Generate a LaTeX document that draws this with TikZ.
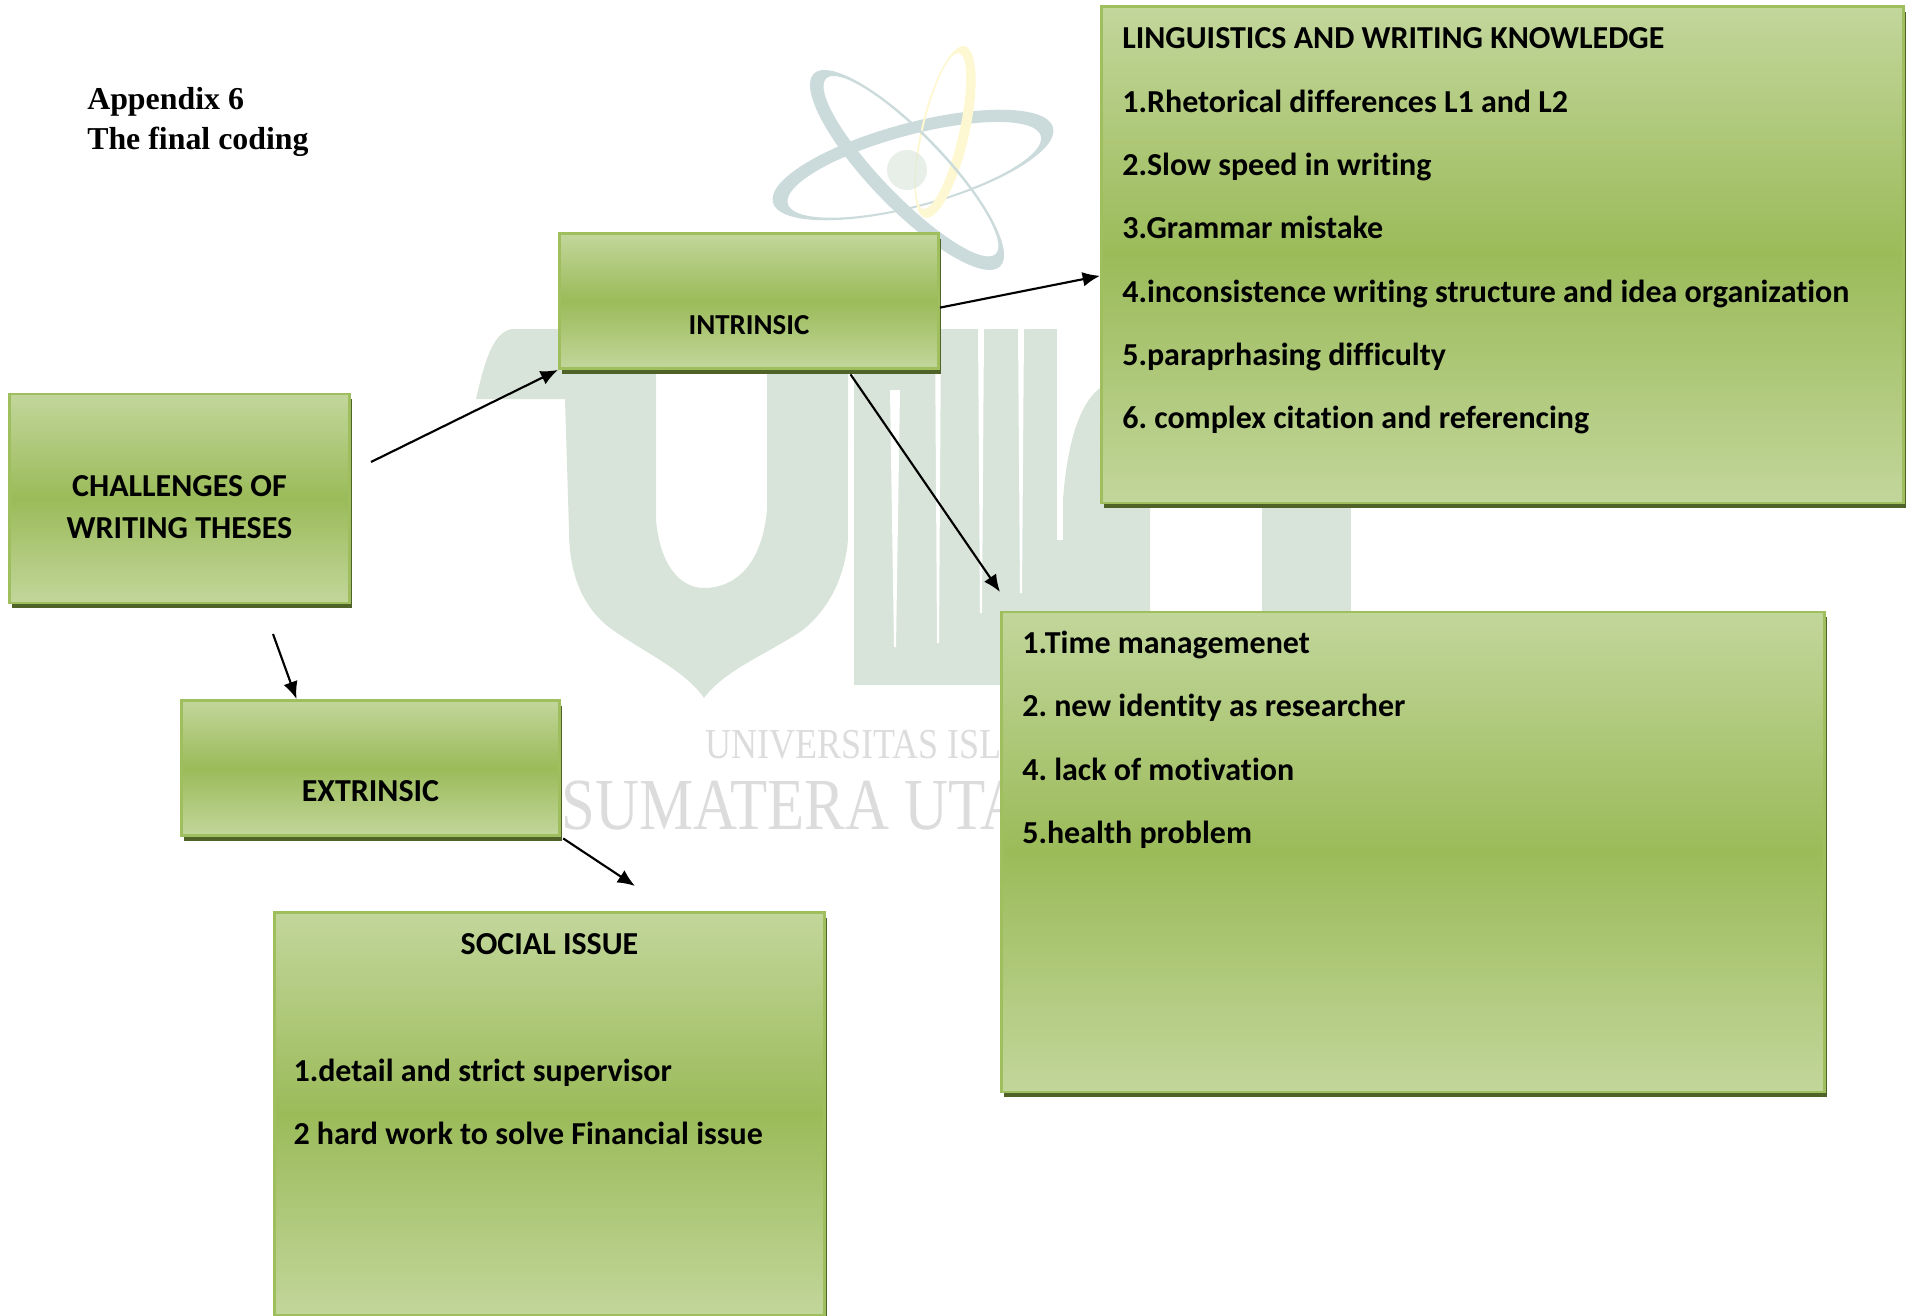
\documentclass[tikz,border=0pt]{standalone}
\usepackage{fontspec}
\setmainfont[Ligatures=NoCommon]{Carlito}
\newfontfamily\headfont{Liberation Serif}
\usetikzlibrary{positioning,shadows,arrows.meta}
\frenchspacing

\definecolor{boxlight}{HTML}{C2D69B}
\definecolor{boxmid}{HTML}{9BBB59}
\definecolor{boxedge}{HTML}{9FBE5E}
\definecolor{boxdark}{HTML}{4F6228}
\definecolor{wmgreen}{HTML}{D8E4D9}
\definecolor{wmblue}{HTML}{CBDADA}
\definecolor{wmyellow}{HTML}{FDF8D2}
\definecolor{wmgrey}{HTML}{DCDCDC}

\tikzset{box/.style={draw=boxedge, line width=2.2pt, inner sep=0pt, anchor=north west, shading=axis, top color=boxlight, bottom color=boxlight, middle color=boxmid, align=center, font=\fontsize{24}{31.5}\selectfont\bfseries, drop shadow={shadow xshift=2.2pt, shadow yshift=-4pt, opacity=1, fill=boxdark}}}
\tikzset{boxsize/.style 2 args={minimum width=#1*0.75pt, minimum height=#2*0.75pt}}
\tikzset{listtext/.style={inner sep=0pt, anchor=north west, align=left, font=\fontsize{24}{47.5}\selectfont\bfseries}}
\tikzset{conn/.style={line width=1.6pt, -{Latex[length=13pt, width=11pt]}}}

\begin{document}
\begin{tikzpicture}[x=0.75pt,y=-0.75pt]
    \useasboundingbox (0,0) rectangle (1912,1316);

    \fill[wmgreen, even odd rule] (476,399) .. controls (484,365) and (492,332) .. (512,329) -- (848,329) -- (848,540) .. controls (845,575) and (830,610) .. (800,632) .. controls (765,655) and (725,670) .. (704,698) .. controls (685,670) and (640,650) .. (610,628) .. controls (580,605) and (569,570) .. (569,530) -- (565,399) -- cycle
        (656,373) -- (656,520) .. controls (660,565) and (680,588) .. (704,588) .. controls (735,588) and (762,565) .. (767,510) -- (767,373) -- cycle;
    \fill[wmgreen] (854,329) -- (1057,329) -- (1057,685) -- (854,685) -- cycle;
    \fill[wmgreen] (1063,540) -- (1063,500) .. controls (1068,430) and (1085,395) .. (1105,385) -- (1150,385) -- (1150,685) -- (1057,685) -- (1057,540) -- cycle;
    \fill[wmgreen] (1262,480) rectangle (1351,640);
    \fill[white] (848,443) -- (854,443) -- (854,600) -- (848,600) -- cycle;
    \fill[white] (890,390) -- (900,390) -- (896,647) -- (894,647) -- cycle;
    \fill[white] (935,329) -- (941,329) -- (939,643) -- (937,643) -- cycle;
    \fill[white] (978,329) -- (984,329) -- (982,613) -- (980,613) -- cycle;
    \fill[white] (1018,329) -- (1024,329) -- (1022,593) -- (1020,593) -- cycle;
    \fill[white] (1057,329) -- (1063,329) -- (1061,540) -- (1059,540) -- cycle;

    \begin{scope}[shift={(913,165)},rotate=15]
        \fill[wmblue, even odd rule] (0,0) ellipse [x radius=145,y radius=42] (0,5) ellipse [x radius=131,y radius=35];
    \end{scope}
    \begin{scope}[shift={(945,132)},rotate=77]
        \fill[wmyellow, even odd rule] (0,0) ellipse [x radius=88,y radius=24] (0,-4) ellipse [x radius=80,y radius=18];
    \end{scope}
    \begin{scope}[shift={(907,170)},rotate=-46]
        \fill[wmblue, even odd rule] (0,0) ellipse [x radius=134,y radius=38] (0,-5.5) ellipse [x radius=122,y radius=30];
    \end{scope}
    \fill[wmgreen, opacity=0.6] (907,170) circle (20);

    \node[inner sep=0pt, anchor=base west, text=wmgrey, font=\headfont\fontsize{32}{32}\selectfont, xscale=0.845] (wmtop) at (705,758) {UNIVERSITAS ISL};
    \node[inner sep=0pt, anchor=base west, text=wmgrey, font=\headfont\fontsize{55}{55}\selectfont, xscale=0.83] (wmbottom) at (561,829) {SUMATERA UTA};

    \node[inner sep=0pt, anchor=north west, align=left, font=\headfont\fontsize{23.9}{30}\selectfont\bfseries] (title) at (87,87) {Appendix 6\\The final coding};

    \node[box, boxsize={340}{209}] (challenges) at (8,392.5) {\\[-2.4pt]CHALLENGES OF\\WRITING THESES};
    \node[box, boxsize={379}{135}, font=\fontsize{21.7}{31.5}\selectfont\bfseries] (intrinsic) at (558,232) {\\[19.6pt]INTRINSIC};
    \node[box, boxsize={378}{135}] (extrinsic) at (180,699) {\\[19.6pt]EXTRINSIC};
    \node[box, boxsize={802}{496.5}] (linguistics) at (1100,5) {};
    \node[box, boxsize={823}{480}] (timebox) at (1000,610.5) {};
    \node[box, boxsize={550}{403}] (social) at (273,911) {};

    \node[listtext, below right=17pt and 16.5pt of linguistics.north west] (linguisticslist) {LINGUISTICS AND WRITING KNOWLEDGE\\1.Rhetorical differences L1 and L2\\2.Slow speed in writing\\3.Grammar mistake\\4.inconsistence writing structure and idea organization\\5.paraprhasing difficulty\\6. complex citation and referencing};
    \node[listtext, below right=15.2pt and 16.5pt of timebox.north west] (timelist) {1.Time managemenet\\2. new identity as researcher\\4. lack of motivation\\5.health problem};
    \node[inner sep=0pt, font=\fontsize{24}{31.5}\selectfont\bfseries, below=16.6pt of social.north] (socialhead) {SOCIAL ISSUE};
    \node[listtext, below right=110.8pt and 15.2pt of social.north west] (sociallist) {1.detail and strict supervisor\\2 hard work to solve Financial issue};

    \coordinate (challengesout) at (371,462);
    \coordinate (challengesdown) at (273,634);
    \coordinate (intrinsicend) at (1000,592);
    \coordinate (extrinsicend) at (635,886);

    \draw[conn] (challengesout) -- (intrinsic.south west);
    \draw[conn] (challengesdown) -- (extrinsic.137.4);
    \draw[conn] (intrinsic.-2.4) -- (linguistics.183.2);
    \draw[conn, shorten <=4pt] (intrinsic.-35) -- (intrinsicend);
    \draw[conn, shorten <=2pt] (extrinsic.south east) -- (extrinsicend);
\end{tikzpicture}
\end{document}
